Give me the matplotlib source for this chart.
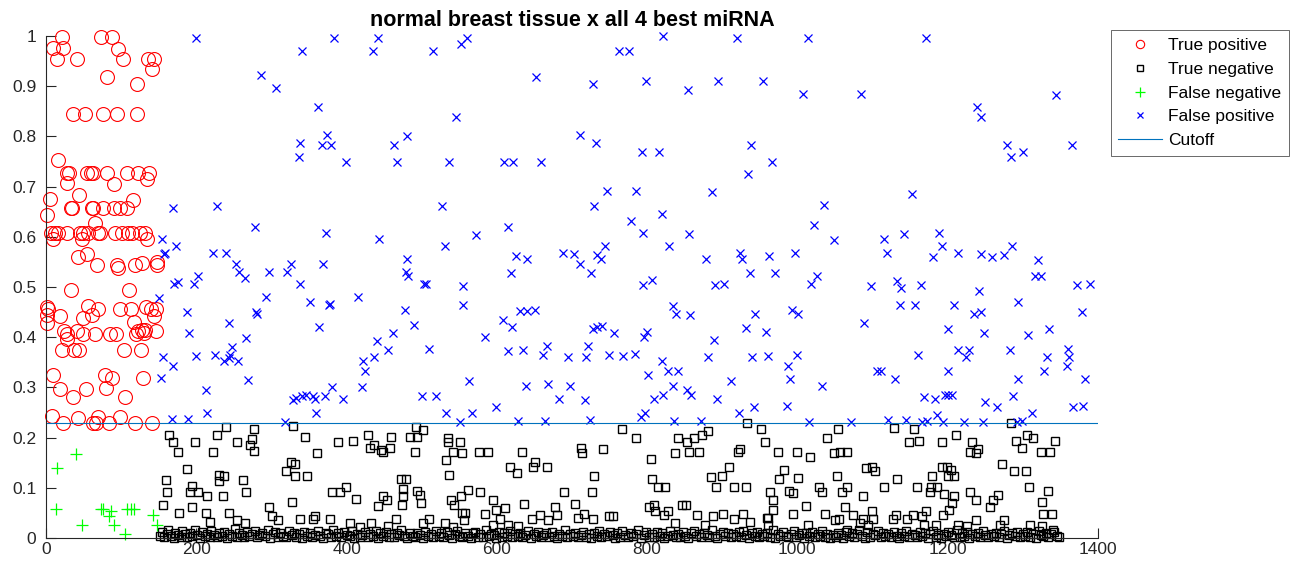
import matplotlib
matplotlib.use('Agg')
import matplotlib.pyplot as plt

plt.rcParams['font.family'] = ['Liberation Sans', 'DejaVu Sans']

# true positive (red circles)
tp_x = [20.9, 9.8, 23.0, 14.2, 40.8, 72.8, 87.4, 96.3, 102.0, 136.0, 143.7, 140.6, 81.6, 121.6,
        36.3, 51.9, 76.3, 95.0, 120.8, 15.5,
        28.4, 31.1, 54.1, 59.9, 62.1, 81.6, 107.5, 122.9, 137.5,
        28.4, 91.0, 134.9, 43.9, 5.3, 116.2, 1.8,
        32.8, 34.2, 60.8, 63.0, 75.5, 90.5, 98.5, 107.5, 65.2,
        6.2, 12.0, 16.4, 27.5, 45.3, 49.7, 56.3, 69.6, 71.9, 91.8, 100.7, 109.6, 114.0, 125.1, 131.8,
        134.0, 47.5, 9.8, 42.1, 55.0, 67.4, 94.0, 96.3, 118.5, 127.3, 147.3, 148.2,
        32.8, 110.5, 1.8, 3.1, 1.8, 0.9, 18.6, 56.3, 60.8, 49.7, 69.6, 98.5, 112.7, 117.1,
        133.1, 139.3, 146.4, 143.7,
        24.0, 27.5, 27.5, 41.7, 49.7, 65.2, 85.2, 93.2, 119.8, 122.9, 127.3, 131.8, 130.4, 146.4,
        20.9, 37.7, 44.4, 103.8, 126.0,
        8.9, 78.5, 88.3, 129.5, 18.6, 53.2, 79.9, 36.4, 105.1,
        7.5, 22.2, 43.0, 63.0, 66.5, 69.6, 83.9, 98.5, 118.5, 140.6]
tp_y = [0.997, 0.977, 0.977, 0.955, 0.955, 0.998, 0.998, 0.975, 0.955, 0.955, 0.955, 0.934, 0.918, 0.904,
        0.845, 0.845, 0.845, 0.845, 0.845, 0.752,
        0.728, 0.728, 0.728, 0.728, 0.728, 0.728, 0.728, 0.728, 0.728,
        0.708, 0.705, 0.715, 0.683, 0.676, 0.673, 0.643,
        0.657, 0.657, 0.657, 0.657, 0.657, 0.657, 0.657, 0.657, 0.627,
        0.608, 0.608, 0.608, 0.608, 0.608, 0.608, 0.608, 0.608, 0.608, 0.608, 0.608, 0.608, 0.608, 0.608, 0.608,
        0.595, 0.595, 0.595, 0.560, 0.565, 0.543, 0.543, 0.538, 0.543, 0.548, 0.550, 0.543,
        0.495, 0.495, 0.460, 0.456, 0.445, 0.428, 0.443, 0.462, 0.445, 0.438, 0.456, 0.456, 0.456, 0.430,
        0.460, 0.456, 0.456, 0.443,
        0.412, 0.407, 0.397, 0.412, 0.407, 0.407, 0.407, 0.407, 0.407, 0.412, 0.415, 0.415, 0.409, 0.412,
        0.374, 0.374, 0.374, 0.374, 0.374,
        0.325, 0.325, 0.319, 0.319, 0.297, 0.297, 0.298, 0.281, 0.281,
        0.244, 0.230, 0.240, 0.230, 0.230, 0.242, 0.230, 0.242, 0.230, 0.230]

# false negative (green plus)
fn_x = [39.5, 14.2, 13.3, 47.5, 72.8, 75.5, 86.1, 84.3, 90.5, 105.1, 108.3, 112.7, 117.1, 142.9, 148.2]
fn_y = [0.168, 0.139, 0.058, 0.026, 0.058, 0.058, 0.053, 0.043, 0.026, 0.008, 0.058, 0.058, 0.058, 0.045, 0.026]

# false positive (blue x)
fp_x = [169.5, 154.0, 173.0, 157.0, 158.4, 150.8, 170.4, 156.2, 168.6, 152.6, 167.3,
        199.2, 340.3, 383.7, 442.2, 435.6, 514.6, 559.9, 552.3, 285.7, 305.7, 361.5, 545.7, 374.4,
        338.0, 366.9, 378.9, 480.9, 463.1, 336.7, 399.2, 467.5, 536.7, 227.1, 527.4, 278.1, 372.2, 571.7,
        443.6, 530.9, 222.7, 239.1, 252.4, 256.9, 264.9, 296.7, 325.6, 321.2, 338.0, 368.2, 480.0,
        478.7, 482.2, 502.7, 506.3, 555.2, 555.2, 176.1, 197.0, 201.9, 292.3, 351.3, 376.6, 378.0,
        415.6, 279.4, 281.2, 188.1, 477.8, 244.0, 190.8, 363.3, 489.7, 265.7, 247.0, 440.1, 462.3,
        455.6, 510.2, 436.5, 421.4, 424.5, 200.0, 224.4, 236.8, 243.0, 244.4, 255.1, 269.2, 212.9,
        380.2, 421.0, 563.4, 329.2, 332.7, 340.3, 346.0, 354.9, 358.0, 371.3, 395.7, 500.0, 519.0,
        213.8, 359.3, 531.8, 567.3, 189.5, 318.3, 550.3,
        820.7, 919.2, 763.0, 776.3, 651.7, 728.4, 797.9, 854.8, 894.7, 954.6, 710.7, 731.9, 793.6,
        816.2, 938.6, 966.1, 934.1, 610.0, 621.1, 658.8, 746.2, 785.3, 886.0, 729.3, 819.3, 778.1,
        615.3, 795.0, 856.2,
        829.1, 743.9, 625.5, 639.8, 688.6, 702.8, 733.9, 738.4, 710.7, 725.4, 618.4, 877.9, 923.7,
        926.9, 962.0, 937.3, 970.8, 794.1, 807.0, 890.2, 902.7, 833.9, 838.3, 856.9, 943.5, 607.7,
        619.7, 630.8, 639.6, 650.8, 728.6, 733.0, 739.7, 756.5, 799.8, 796.3, 931.6, 958.2, 889.1,
        584.2, 615.3, 634.4, 666.4, 662.0, 694.4, 718.4, 721.9, 749.7, 768.4, 783.9, 819.3, 881.4,
        939.5, 960.8, 801.6, 828.2, 841.5, 911.6, 638.8, 668.5, 697.3, 834.9, 853.5, 857.9, 683.2,
        717.3, 809.6, 821.6, 893.4, 598.9, 942.2, 922.8, 791.9, 797.2, 628.7, 664.2, 724.1, 836.1, 871.6,
        1014.5, 1170.7, 1007.9, 1084.0, 1343.7, 1239.5, 1243.9, 1278.5, 1283.9, 1300.7, 1365.9,
        1152.1, 1035.8, 1022.5,
        1048.7, 1115.2, 1142.3, 1188.8, 996.8, 1119.6, 1191.9, 1180.0, 1214.1, 1244.3, 1258.5,
        1274.9, 1285.1, 1319.8, 1316.2, 1324.2, 1026.5, 1017.6, 1097.9, 1132.0, 1137.8, 1164.4,
        1242.1, 1372.5, 1389.4, 1136.4, 1156.4, 1208.8, 1294.0, 1235.5, 1244.3, 1378.3, 993.2,
        1000.3, 1088.6, 1200.0, 1247.9, 1307.4, 1334.9, 999.9, 987.1, 990.2, 1161.1, 1213.3,
        1228.8, 1224.4, 1282.9, 1359.6, 1361.4, 1358.3, 1332.2, 1328.2, 1105.5, 1111.3, 1129.9,
        1200.9, 1293.2, 1382.8, 1032.3, 1168.9, 1183.1, 1196.4, 1199.9, 1206.1, 1249.6, 1265.2,
        1287.3, 1311.8, 1367.2, 1380.5, 985.7, 1015.4, 1071.3, 1120.1, 1144.5, 1166.2, 1171.9,
        1185.2, 1194.1, 1222.1, 1247.4, 1291.8, 1298.5]
fp_y = [0.658, 0.595, 0.582, 0.565, 0.567, 0.478, 0.505, 0.361, 0.342, 0.319, 0.237,
        0.995, 0.971, 0.995, 0.995, 0.970, 0.971, 0.995, 0.984, 0.922, 0.896, 0.858, 0.839, 0.803,
        0.786, 0.783, 0.783, 0.800, 0.783, 0.758, 0.748, 0.748, 0.748, 0.662, 0.662, 0.620, 0.607, 0.603,
        0.595, 0.581, 0.567, 0.567, 0.546, 0.530, 0.518, 0.529, 0.546, 0.529, 0.505, 0.546, 0.556,
        0.530, 0.522, 0.505, 0.505, 0.502, 0.465, 0.510, 0.505, 0.522, 0.480, 0.470, 0.465, 0.466,
        0.480, 0.450, 0.447, 0.450, 0.454, 0.428, 0.409, 0.421, 0.424, 0.399, 0.381, 0.392, 0.409,
        0.375, 0.376, 0.360, 0.353, 0.332, 0.362, 0.364, 0.353, 0.358, 0.364, 0.353, 0.314, 0.294,
        0.301, 0.301, 0.312, 0.275, 0.279, 0.282, 0.285, 0.282, 0.277, 0.282, 0.277, 0.283, 0.283,
        0.249, 0.250, 0.250, 0.250, 0.238, 0.232, 0.232,
        0.999, 0.995, 0.971, 0.971, 0.919, 0.904, 0.911, 0.892, 0.911, 0.911, 0.802, 0.786, 0.768,
        0.768, 0.783, 0.748, 0.726, 0.748, 0.748, 0.748, 0.691, 0.691, 0.689, 0.661, 0.646, 0.631,
        0.620, 0.608, 0.605,
        0.581, 0.581, 0.561, 0.556, 0.567, 0.565, 0.563, 0.555, 0.545, 0.528, 0.528, 0.556, 0.567,
        0.556, 0.561, 0.528, 0.528, 0.503, 0.513, 0.503, 0.505, 0.462, 0.447, 0.444, 0.447, 0.435,
        0.421, 0.452, 0.452, 0.454, 0.417, 0.421, 0.422, 0.409, 0.410, 0.401, 0.418, 0.410, 0.394,
        0.401, 0.372, 0.374, 0.383, 0.365, 0.361, 0.361, 0.383, 0.365, 0.362, 0.367, 0.352, 0.361,
        0.361, 0.362, 0.325, 0.332, 0.332, 0.313, 0.302, 0.307, 0.302, 0.302, 0.295, 0.284, 0.277,
        0.274, 0.277, 0.284, 0.277, 0.260, 0.260, 0.250, 0.241, 0.249, 0.234, 0.233, 0.236, 0.233, 0.233,
        0.995, 0.995, 0.884, 0.884, 0.883, 0.858, 0.839, 0.783, 0.759, 0.768, 0.783,
        0.686, 0.663, 0.623,
        0.593, 0.595, 0.605, 0.608, 0.567, 0.567, 0.581, 0.560, 0.567, 0.565, 0.560,
        0.563, 0.581, 0.554, 0.522, 0.522, 0.522, 0.505, 0.502, 0.512, 0.498, 0.503,
        0.493, 0.503, 0.505, 0.465, 0.465, 0.465, 0.470, 0.447, 0.450, 0.450, 0.455,
        0.447, 0.428, 0.417, 0.409, 0.405, 0.417, 0.365, 0.342, 0.317, 0.364, 0.374,
        0.375, 0.361, 0.375, 0.376, 0.361, 0.342, 0.360, 0.332, 0.332, 0.332, 0.317,
        0.332, 0.317, 0.317, 0.302, 0.280, 0.277, 0.284, 0.284, 0.284, 0.270, 0.260,
        0.283, 0.250, 0.260, 0.262, 0.262, 0.232, 0.232, 0.236, 0.236, 0.232, 0.234,
        0.245, 0.232, 0.232, 0.232, 0.231, 0.234]

# true negative (black squares), scattered part above the dense band
tn_x = [239.1, 277.3, 328.3, 163.7, 228.0, 169.5, 198.3, 253.8, 273.7, 271.5, 276.8, 176.1, 221.9,
        344.7, 361.1, 389.1, 408.1, 428.1, 436.6, 431.3, 448.1, 457.8, 445.4, 458.7, 492.1, 501.4,
        484.5, 493.3, 491.6, 535.3, 535.3, 542.0, 531.8, 326.5, 330.9, 319.0, 331.4, 347.0, 187.2,
        230.6, 236.8, 229.6, 159.3, 261.7, 536.2, 472.0, 479.1, 160.6, 193.9, 191.6, 202.7, 214.7,
        235.1, 265.8, 399.3, 391.3, 380.3, 412.5, 448.9, 453.4, 441.4, 475.4, 475.4, 474.0, 493.3,
        497.7, 498.6, 539.1, 543.1, 156.2, 193.9, 177.4, 212.9, 243.5, 296.9, 327.0, 338.1, 358.0,
        355.8, 377.9, 218.8, 254.3, 265.4, 300.8, 308.4, 465.8, 509.7, 502.1, 404.6, 432.1, 455.6,
        417.9, 531.1, 541.3,
        766.1, 785.4, 932.5, 951.8, 957.1, 840.6, 853.4, 862.8, 872.5, 880.5, 837.1, 855.8, 869.1,
        920.5, 923.6, 551.0, 553.2, 576.3, 588.7, 633.1, 711.8, 713.6, 741.2, 617.5, 626.4, 650.8,
        647.7, 667.3, 805.3, 729.4, 806.2, 815.1, 824.0, 885.6, 899.8, 909.6, 891.8, 915.4, 932.2,
        561.2, 552.3, 577.6, 689.8, 726.2, 595.4, 611.0, 636.7, 704.2, 676.8, 802.9, 809.5, 810.4,
        845.9, 851.3, 553.2, 557.6, 556.7, 583.9, 599.4, 603.9, 647.3, 657.5, 667.7, 679.7, 707.6,
        716.5, 728.5, 749.9, 755.2, 822.4, 827.3, 865.9, 887.2, 901.4, 916.2, 928.2, 937.1, 837.1,
        877.0, 595.4, 615.4, 628.7,
        1054.5, 1039.8, 1128.6, 1155.2, 1148.5, 1161.8, 1192.1, 1211.2, 1232.0, 1229.8, 1240.9,
        1237.8, 1284.8, 1305.1, 1314.0, 1290.9, 1298.4, 1342.8, 1336.1, 1323.7, 974.6, 999.9,
        1016.8, 1048.7, 1056.7, 1066.5, 1091.3, 1098.9, 1103.3, 1192.1, 1198.8, 1204.1, 1208.5,
        1201.0, 1178.7, 1271.7, 1288.1, 1303.7, 982.1, 975.4, 1001.2, 1052.3, 1133.2, 1115.0,
        1029.2, 1032.4, 1066.5, 1058.9, 1159.3, 1177.4, 1186.3, 1176.0, 1195.4, 1208.7, 1205.2,
        1230.2, 1238.2, 1267.4, 1260.7, 1256.3, 1307.6, 1333.3, 1325.8, 1326.7, 1339.1, 963.5,
        967.0, 967.0, 988.9, 994.6, 1086.9, 1011.2, 1063.4, 1036.7, 994.6, 961.4, 1055.4, 1050.1,
        1073.6, 1098.9, 1100.2, 1087.8, 1127.7, 1131.3, 1145.5, 1153.5, 1165.5, 1171.3, 1194.4,
        1201.9, 1237.3, 1275.0, 1014.5, 1065.5, 1083.3, 1094.4, 1168.4, 1184.4, 1214.1, 1225.2,
        1269.4, 1310.2, 1324.9, 1340.4, 960.1, 961.4]
tn_y = [0.221, 0.217, 0.224, 0.206, 0.206, 0.192, 0.192, 0.192, 0.197, 0.186, 0.173, 0.172, 0.172,
        0.201, 0.169, 0.192, 0.194, 0.206, 0.186, 0.180, 0.171, 0.180, 0.175, 0.201, 0.221, 0.215,
        0.201, 0.201, 0.172, 0.199, 0.192, 0.172, 0.156, 0.152, 0.148, 0.134, 0.124, 0.124, 0.137,
        0.125, 0.124, 0.113, 0.116, 0.116, 0.125, 0.117, 0.117, 0.092, 0.103, 0.092, 0.092, 0.084,
        0.083, 0.092, 0.101, 0.092, 0.092, 0.077, 0.084, 0.076, 0.064, 0.097, 0.084, 0.066, 0.094,
        0.086, 0.069, 0.076, 0.066, 0.066, 0.061, 0.049, 0.049, 0.049, 0.061, 0.071, 0.037, 0.044,
        0.037, 0.038, 0.031, 0.036, 0.030, 0.044, 0.036, 0.038, 0.038, 0.030, 0.029, 0.029, 0.023,
        0.021, 0.029, 0.021,
        0.217, 0.199, 0.229, 0.217, 0.192, 0.199, 0.192, 0.199, 0.206, 0.214, 0.169, 0.172, 0.172,
        0.172, 0.177, 0.192, 0.169, 0.172, 0.172, 0.171, 0.179, 0.170, 0.178, 0.142, 0.130, 0.152,
        0.142, 0.142, 0.157, 0.124, 0.117, 0.101, 0.101, 0.122, 0.124, 0.142, 0.101, 0.101, 0.101,
        0.095, 0.084, 0.091, 0.091, 0.091, 0.075, 0.059, 0.068, 0.068, 0.062, 0.061, 0.065, 0.053,
        0.065, 0.065, 0.049, 0.049, 0.036, 0.048, 0.056, 0.037, 0.037, 0.046, 0.036, 0.046, 0.039,
        0.047, 0.038, 0.044, 0.043, 0.046, 0.053, 0.046, 0.043, 0.048, 0.037, 0.048, 0.032, 0.029,
        0.025, 0.025, 0.025, 0.024,
        0.217, 0.199, 0.219, 0.217, 0.192, 0.194, 0.192, 0.206, 0.192, 0.172, 0.178,
        0.169, 0.229, 0.206, 0.199, 0.194, 0.179, 0.194, 0.172, 0.171, 0.171, 0.171,
        0.161, 0.169, 0.171, 0.172, 0.140, 0.142, 0.133, 0.142, 0.142, 0.136, 0.124,
        0.124, 0.124, 0.147, 0.133, 0.133, 0.135, 0.117, 0.119, 0.124, 0.117, 0.102,
        0.101, 0.092, 0.101, 0.091, 0.102, 0.102, 0.102, 0.092, 0.088, 0.084, 0.069,
        0.092, 0.076, 0.085, 0.076, 0.062, 0.102, 0.094, 0.071, 0.047, 0.047, 0.091,
        0.076, 0.056, 0.094, 0.089, 0.084, 0.064, 0.061, 0.048, 0.048, 0.039, 0.038, 0.036,
        0.046, 0.053, 0.037, 0.038, 0.037, 0.046, 0.037, 0.046, 0.043, 0.053, 0.046,
        0.056, 0.036, 0.036, 0.025, 0.016, 0.029, 0.026, 0.025, 0.025, 0.025, 0.024,
        0.025, 0.026, 0.024, 0.016, 0.040, 0.025]

# true negative, dense band close to zero
band_x = [152, 154, 157, 161, 163, 166, 170, 172, 176, 179, 181, 185, 188, 192, 194, 198, 201, 205, 207, 211,
          214, 218, 220, 224, 228, 230, 234, 237, 241, 243, 247, 251, 254, 257, 261, 264, 268, 270, 274, 278,
          281, 284, 288, 291, 295, 298, 302, 305, 309, 312, 316, 319, 323, 327, 330, 333, 337, 341, 344, 347,
          351, 354, 358, 362, 364, 368, 372, 375, 379, 382, 386, 389, 393, 396, 400, 404, 407, 410, 414, 418,
          421, 424, 428, 431, 435, 439, 442, 445, 449, 452, 456, 459, 463, 467, 470, 473, 477, 480, 484, 488,
          491, 494, 498, 502, 505, 508, 512, 515, 519, 523, 526, 529, 533, 536, 540, 544, 547, 550, 554, 557,
          561, 565, 568, 571, 575, 578, 582, 586, 589, 592, 596, 599, 603, 607, 610, 613, 617, 620, 624, 628,
          631, 634, 638, 641, 645, 649, 652, 655, 659, 662, 666, 670, 673, 676, 680, 683, 687, 691, 694, 697,
          701, 704, 708, 712, 715, 718, 722, 725, 729, 733, 736, 739, 743, 746, 750, 754, 757, 760, 764, 767,
          771, 775, 778, 781, 785, 788, 792, 796, 799, 802, 806, 809, 813, 817, 820, 823, 827, 830, 834, 838,
          841, 844, 848, 851, 855, 859, 862, 865, 869, 872, 876, 880, 883, 886, 890, 893, 897, 901, 904, 907,
          911, 914, 918, 922, 925, 928, 932, 935, 939, 943, 946, 949, 953, 956, 960, 964, 967, 970, 974, 977,
          981, 985, 988, 991, 995, 998, 1002, 1006, 1009, 1012, 1016, 1019, 1023, 1027, 1030, 1033, 1037, 1040, 1044, 1048,
          1051, 1054, 1058, 1061, 1065, 1069, 1072, 1075, 1079, 1082, 1086, 1090, 1093, 1096, 1100, 1103, 1107, 1111, 1114, 1117,
          1121, 1124, 1128, 1132, 1135, 1138, 1142, 1145, 1149, 1153, 1156, 1159, 1163, 1166, 1170, 1174, 1177, 1180, 1184, 1187,
          1191, 1195, 1198, 1201, 1205, 1208, 1212, 1216, 1219, 1222, 1226, 1229, 1233, 1237, 1240, 1243, 1247, 1250, 1254, 1258,
          1261, 1264, 1268, 1271, 1275, 1279, 1282, 1285, 1289, 1292, 1296, 1300, 1303, 1306, 1310, 1313, 1317, 1321, 1324, 1327,
          1331, 1334, 1338, 1342, 1345, 1348]
band_y = [.004, .012, .002, .008, .015, .005, .001, .010, .006, .003, .013, .007, .002, .009, .004, .016, .006, .001, .011, .005,
          .008, .003, .014, .006, .002, .010, .005, .012, .001, .007, .004, .018, .003, .009, .006, .002, .011, .004, .008, .013,
          .002, .006, .010, .004, .015, .001, .007, .012, .003, .009, .005, .002, .014, .006, .010, .003, .008, .001, .012, .005,
          .009, .002, .006, .013, .004, .001, .010, .007, .003, .016, .005, .009, .002, .011, .006, .004, .013, .001, .008, .003,
          .006, .011, .002, .008, .004, .014, .001, .009, .005, .012, .003, .007, .002, .010, .006, .015, .004, .001, .009, .005,
          .003, .010, .006, .001, .012, .004, .008, .002, .014, .005, .009, .003, .011, .006, .001, .008, .013, .004, .002, .010,
          .005, .001, .009, .012, .003, .007, .002, .015, .004, .008, .006, .001, .011, .003, .009, .005, .013, .002, .007, .004,
          .010, .003, .006, .014, .001, .008, .004, .011, .002, .006, .009, .003, .012, .005, .001, .008, .004, .016, .002, .007,
          .004, .009, .002, .006, .012, .003, .008, .001, .010, .005, .014, .002, .007, .004, .011, .006, .001, .009, .003, .013,
          .006, .002, .010, .004, .008, .015, .001, .006, .011, .003, .007, .002, .012, .005, .009, .001, .004, .014, .006, .002,
          .008, .003, .011, .005, .001, .009, .013, .004, .007, .002, .010, .006, .003, .016, .005, .001, .008, .012, .004, .009,
          .002, .007, .005, .011, .003, .014, .006, .001, .009, .004, .012, .002, .008, .005, .010, .003, .015, .001, .007, .004,
          .011, .005, .002, .008, .013, .003, .006, .010, .001, .009, .004, .012, .002, .007, .005, .014, .003, .008, .001, .006,
          .003, .009, .006, .001, .012, .004, .010, .002, .007, .015, .005, .001, .011, .003, .008, .006, .013, .002, .009, .004,
          .007, .002, .012, .005, .001, .009, .004, .014, .003, .008, .006, .002, .011, .005, .010, .001, .007, .013, .003, .006,
          .001, .008, .004, .011, .006, .002, .015, .003, .009, .005, .012, .001, .007, .004, .010, .002, .013, .006, .003, .008,
          .005, .010, .002, .007, .013, .001, .006, .009, .004, .012, .002, .008, .005, .011, .003, .007, .001, .014, .006, .004,
          .009, .003, .007, .012, .005, .002]

cutoff = 0.23

fig = plt.figure(figsize=(12.96, 5.74), dpi=100)
ax = fig.add_axes([0.0355, 0.0627, 0.8117, 0.8746])

ax.plot(tp_x, tp_y, 'o', color='red', mfc='none', ms=10, mew=0.8, label='True positive', clip_on=False)
ax.plot(tn_x + band_x, tn_y + band_y, 's', color='black', mfc='none', ms=6.3, mew=1.0,
        label='True negative', clip_on=False)
ax.plot(fn_x, fn_y, '+', color='#00ff00', ms=8, mew=0.9, label='False negative', clip_on=False)
ax.plot(fp_x, fp_y, 'x', color='blue', ms=5.5, mew=0.9, label='False positive', clip_on=False)
ax.axhline(cutoff, color='#0072bd', lw=0.8, label='Cutoff')

ax.set_xlim(0, 1400)
ax.set_ylim(0, 1)
ax.set_xticks(range(0, 1401, 200))
ax.set_yticks([i / 10 for i in range(11)])
ax.set_yticklabels(['0', '0.1', '0.2', '0.3', '0.4', '0.5', '0.6', '0.7', '0.8', '0.9', '1'])
ax.tick_params(direction='in', length=7, width=0.8, colors='#262626', labelsize=12.5, pad=3)
ax.tick_params(axis='y', pad=7)
for s in ['top', 'right']:
    ax.spines[s].set_visible(False)
for s in ['left', 'bottom']:
    ax.spines[s].set_color('#262626')
    ax.spines[s].set_linewidth(0.8)

ax.set_title('normal breast tissue x all 4 best miRNA', fontsize=15.5, fontweight='bold', pad=7)

leg = ax.legend(loc='upper left', bbox_to_anchor=(1110.5 / 1296, 1 - 30 / 574), bbox_transform=fig.transFigure,
                fontsize=12.5, frameon=True, fancybox=False, borderaxespad=0, handlelength=2.5,
                handletextpad=0.35, labelspacing=0.5, borderpad=0.45)
leg.get_frame().set_edgecolor('#262626')
leg.get_frame().set_linewidth(0.6)
# smaller symbols in the legend box
for h, size in zip(leg.legend_handles[:4], [6, 4.2, 6.5, 5]):
    h.set_markersize(size)

fig.savefig('out.png', dpi=100)
